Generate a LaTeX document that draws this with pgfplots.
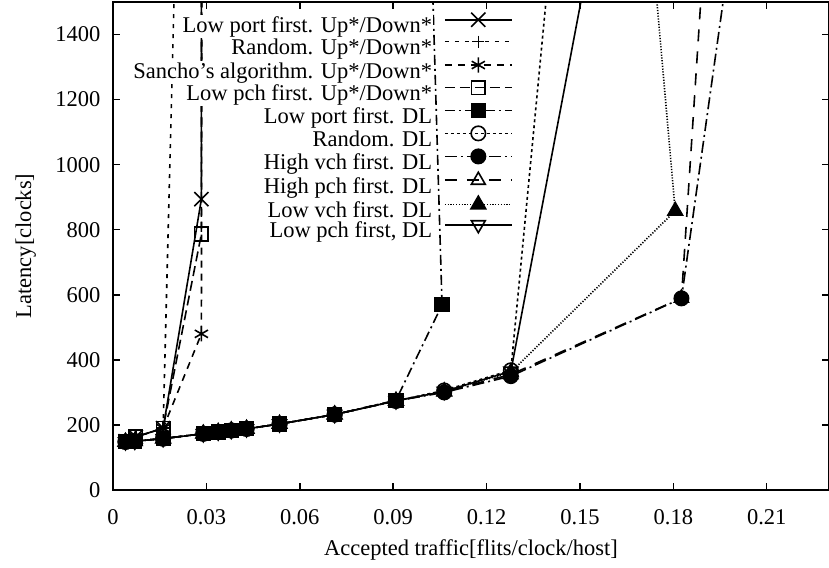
\documentclass[border=0pt]{standalone}
\usepackage{fontspec}
\setmainfont{Liberation Serif}
\usepackage{pgfplots}
\pgfplotsset{compat=1.18}
\newcommand\chartfont{\fontsize{11.25}{13.5}\selectfont}
\begin{document}
\begin{tikzpicture}
\begin{axis}[
  scale only axis, width=358pt, height=244pt,
  xmin=0, xmax=0.23, ymin=0, ymax=1500,
  axis line style={line width=0.75pt},
  every tick/.style={black, line width=0.75pt},
  major tick length=3.5pt, tick align=inside,
  xtick={0,0.03,0.06,0.09,0.12,0.15,0.18,0.21},
  xticklabels={0,0.03,0.06,0.09,0.12,0.15,0.18,0.21},
  ytick={0,200,400,600,800,1000,1200,1400},
  yticklabels={0,200,400,600,800,1000,1200,1400},
  tick label style={font=\chartfont},
  xticklabel style={yshift=-6.25pt},
  yticklabel style={xshift=-2.75pt},
  xlabel={Accepted traffic[flits/clock/host]},
  ylabel={Latency[clocks]},
  every axis x label/.style={at={(axis description cs:0.5,-0.1332)}, anchor=base, font=\chartfont},
  every axis y label/.style={at={(axis description cs:-0.1145,0.5)}, rotate=90, anchor=base, font=\chartfont},
  legend plot pos=right, legend cell align=right,
  legend style={font=\chartfont, at={(axis description cs:0.5587,0.979)}, anchor=north east,
     draw=none, fill=none, inner sep=0pt, row sep=-1.45pt, column sep=5.5pt,
     nodes={inner sep=0.5pt, fill=white, text height=8.2pt, text depth=2.35pt}},
  legend image code/.code={\draw[mark repeat=2,mark phase=2,#1] plot coordinates {(0pt,3.6pt) (16.75pt,3.6pt) (33.5pt,3.6pt)};},
  every axis plot/.append style={black, line width=0.8pt},
]
% 1 Low port first Up*/Down*
\addplot[solid, mark=x, mark size=5pt, mark options={solid}] coordinates {
(0.004,150) (0.0073,163) (0.0161,190) (0.0284,894) (0.0284,3000)};
\addlegendentry{Low port first. Up*/Down*}
% 2 Random Up*/Down*
\addplot[dash pattern=on 2pt off 3pt, mark=+, mark size=3pt, mark options={solid}] coordinates {
(0.004,150) (0.0073,163) (0.0161,190) (0.0236,3000)};
\addlegendentry{Random. Up*/Down*}
% 3 Sancho
\addplot[dash pattern=on 3.5pt off 3pt, mark=asterisk, mark size=3.8pt, mark options={solid}] coordinates {
(0.004,150) (0.0073,163) (0.0161,190) (0.0284,480) (0.0287,3000)};
\addlegendentry{Sancho's algorithm. Up*/Down*}
% 4 Low pch first Up*/Down*
\addplot[dash pattern=on 5pt off 2.5pt, mark=square, mark size=3.4pt, mark options={solid}] coordinates {
(0.004,150) (0.0073,163) (0.0161,190) (0.0284,787) (0.0285,3000)};
\addlegendentry{Low pch first. Up*/Down*}
% 5 Low port first DL
\addplot[dash pattern=on 5pt off 2pt on 1pt off 2pt, mark=square*, mark size=3.4pt, mark options={solid}] coordinates {
(0.004,148) (0.007,150) (0.0161,158) (0.029,173) (0.0338,178) (0.038,183) (0.0429,188) (0.0535,203) (0.0712,232) (0.0909,276) (0.1057,569) (0.0981,3000)};
\addlegendentry{Low port first. DL}
% 6 Random DL
\addplot[dash pattern=on 1.5pt off 1.5pt, mark=o, mark size=3.6pt, mark options={solid}] coordinates {
(0.004,148) (0.007,150) (0.0161,158) (0.029,173) (0.0338,178) (0.038,183) (0.0429,188) (0.0535,203) (0.0712,232) (0.0909,274) (0.1064,306) (0.1278,368) (0.154,3000)};
\addlegendentry{Random. DL}
% 7 High vch first DL
\addplot[dash pattern=on 6pt off 2pt on 1pt off 2pt, mark=*, mark size=3.6pt, mark options={solid}] coordinates {
(0.004,148) (0.007,150) (0.0161,158) (0.029,173) (0.0338,178) (0.038,183) (0.0429,188) (0.0535,203) (0.0712,232) (0.0909,274) (0.1064,300) (0.1278,350) (0.1826,589) (0.218,3000)};
\addlegendentry{High vch first. DL}
% 8 High pch first DL
\addplot[dash pattern=on 6pt off 5pt, mark=triangle, mark size=4pt, mark options={solid}] coordinates {
(0.004,148) (0.007,150) (0.0161,158) (0.029,173) (0.0338,178) (0.038,183) (0.0429,188) (0.0535,203) (0.0712,232) (0.0909,274) (0.1064,302) (0.1278,355) (0.1826,590) (0.199,3000)};
\addlegendentry{High pch first. DL}
% 9 Low vch first DL
\addplot[dash pattern=on 0.6pt off 0.8pt, mark=triangle*, mark size=4.2pt, mark options={solid}] coordinates {
(0.004,148) (0.007,150) (0.0161,158) (0.029,173) (0.0338,178) (0.038,183) (0.0429,188) (0.0535,203) (0.0712,232) (0.0909,274) (0.1064,303) (0.1278,362) (0.1806,858) (0.161,3000)};
\addlegendentry{Low vch first. DL}
% 10 Low pch first DL
\addplot[solid, mark=triangle, mark size=4pt, mark options={solid, rotate=180}] coordinates {
(0.004,148) (0.007,150) (0.0161,158) (0.029,173) (0.0338,178) (0.038,183) (0.0429,188) (0.0535,203) (0.0712,232) (0.0909,274) (0.1064,303) (0.1278,365) (0.180,3000)};
\addlegendentry{Low pch first, DL}
\end{axis}
\pgfresetboundingbox
\path ([xshift=-56.5pt,yshift=-38.5pt]current axis.south west) rectangle ([yshift=1pt]current axis.north east);
\end{tikzpicture}
\end{document}
